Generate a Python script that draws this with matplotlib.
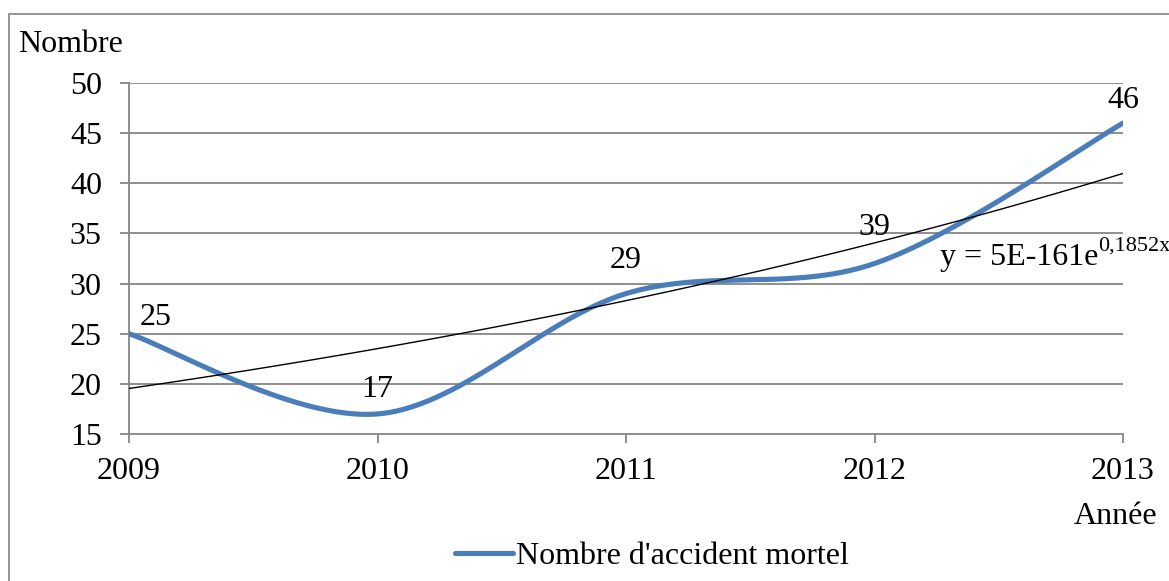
import numpy as np
import matplotlib
matplotlib.use('Agg')
import matplotlib.pyplot as plt
from matplotlib.patches import Rectangle

years = [2009, 2010, 2011, 2012, 2013]
accidents = [25, 17, 29, 32, 46]
point_labels = ['25', '17', '29', '39', '46']
series_name = "Nombre d'accident mortel"
y_ticks = [15, 20, 25, 30, 35, 40, 45, 50]

# where each data label sits relative to its point (pixels)
label_dx = [27, 0, 0, 0, 0]
label_dy = [16, 24, 33, 36, 23]

BLUE = '#4a7ebb'
GREY = '#868686'
FS = 23

plt.rcParams['font.family'] = ['Liberation Serif', 'DejaVu Serif']


def smooth_curve(xs, ys, n=60):
    # bezier smoothing the way a spreadsheet draws a "smoothed line"
    pts = np.column_stack([xs, ys]).astype(float)
    ext = np.vstack([pts[0], pts, pts[-1]])
    out = []
    t = np.linspace(0, 1, n)[:, None]
    for i in range(len(pts) - 1):
        p0, p3 = ext[i + 1], ext[i + 2]
        c1 = p0 + (ext[i + 2] - ext[i]) / 6
        c2 = p3 - (ext[i + 3] - ext[i + 1]) / 6
        seg = ((1 - t) ** 3) * p0 + 3 * ((1 - t) ** 2) * t * c1 \
            + 3 * (1 - t) * t ** 2 * c2 + t ** 3 * p3
        out.append(seg)
    seg = np.vstack(out)
    return seg[:, 0], seg[:, 1]


fig = plt.figure(figsize=(11.69, 5.81), dpi=100)
ax = fig.add_axes([129 / 1169, 1 - 434 / 581, (1123 - 129) / 1169, (434 - 83) / 581])

# outer chart border (clipped by the image on the right and bottom)
fig.patches.append(Rectangle((9 / 1169, -0.1), 1.2, 1 - 14 / 581 + 0.1,
                             transform=fig.transFigure, fill=False,
                             edgecolor='#8c8c8c', linewidth=1.3))

for v in y_ticks[1:]:
    ax.axhline(v, color=GREY, linewidth=1.3, zorder=1)

sx, sy = smooth_curve(years, accidents)
main_line, = ax.plot(sx, sy, color=BLUE, linewidth=3.7, solid_capstyle='round',
                     zorder=3, label=series_name)

# exponential trend line
b, ln_a = np.polyfit(years, np.log(accidents), 1)
tx = np.linspace(years[0], years[-1], 100)
ax.plot(tx, np.exp(ln_a + b * tx), color='black', linewidth=1.0, zorder=4)

eq = ax.annotate('y = 5E-161e', xy=(940, 581 - 258), xycoords='figure pixels',
                 fontsize=FS, va='center', ha='left', zorder=5)
ax.annotate('0,1852x', xy=(1.0, 0.92), xycoords=eq, fontsize=16,
            va='center', ha='left', zorder=5)

for x, y, lab, dx, dy in zip(years, accidents, point_labels, label_dx, label_dy):
    ax.annotate(lab, xy=(x, y), xytext=(dx * 0.72, dy * 0.72), textcoords='offset points',
                ha='center', va='center', fontsize=FS, zorder=5)

ax.set_xlim(years[0], years[-1])
ax.set_ylim(y_ticks[0], y_ticks[-1])
ax.set_xticks(years)
ax.set_yticks(y_ticks)
ax.tick_params(axis='both', labelsize=FS, colors=GREY, labelcolor='black',
               length=6.5, width=1.3, direction='out')
ax.tick_params(axis='x', pad=10)
ax.tick_params(axis='y', pad=13)

for side in ['top', 'right']:
    ax.spines[side].set_visible(False)
for side in ['left', 'bottom']:
    ax.spines[side].set_color(GREY)
    ax.spines[side].set_linewidth(1.3)

fig.text(18 / 1169, 1 - 44 / 581, 'Nombre', fontsize=FS, ha='left', va='center')
fig.text(1157 / 1169, 1 - 517 / 581, 'Année', fontsize=FS, ha='right', va='center')

fig.legend(handles=[main_line], loc='center', bbox_to_anchor=(652 / 1169, 1 - 556 / 581),
           frameon=False, fontsize=FS, handlelength=1.8, handletextpad=0.1)

fig.savefig('out.png', dpi=100)
